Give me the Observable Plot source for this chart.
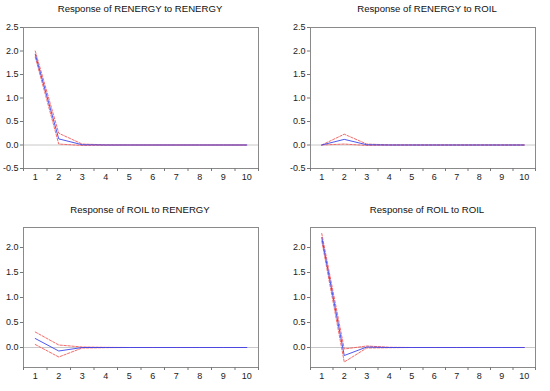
<!DOCTYPE html>
<html>
<head>
<meta charset="utf-8">
<script src="https://cdn.jsdelivr.net/npm/d3@7"></script>
<script src="https://cdn.jsdelivr.net/npm/@observablehq/plot@0.6"></script>
<style>
  html, body { margin: 0; padding: 0; background: #fff; }
  #root { position: relative; width: 550px; height: 391px; font-family: "Liberation Sans", Arial, sans-serif; }
  .panel { position: absolute; }
  .title { position: absolute; font-size: 9.6px; color: #111; white-space: nowrap; transform: translateX(-50%); }
</style>
</head>
<body>
<div id="root"></div>
<script>
const periods = [1, 2, 3, 4, 5, 6, 7, 8, 9, 10];

const titles = [
  "Response of RENERGY to RENERGY",
  "Response of RENERGY to ROIL",
  "Response of ROIL to RENERGY",
  "Response of ROIL to ROIL"
];

// Response of RENERGY to RENERGY
const p1Resp  = [1.93, 0.13, 0.005, 0.0, 0, 0, 0, 0, 0, 0];
const p1Upper = [2.00, 0.25, 0.02, 0.004, 0, 0, 0, 0, 0, 0];
const p1Lower = [1.87, 0.02, -0.01, -0.004, 0, 0, 0, 0, 0, 0];

// Response of RENERGY to ROIL
const p2Resp  = [0.0, 0.12, 0.005, 0.0, 0, 0, 0, 0, 0, 0];
const p2Upper = [0.0, 0.23, 0.02, 0.003, 0, 0, 0, 0, 0, 0];
const p2Lower = [0.0, 0.02, -0.01, -0.003, 0, 0, 0, 0, 0, 0];

// Response of ROIL to RENERGY
const p3Resp  = [0.18, -0.07, 0.0, 0.0, 0, 0, 0, 0, 0, 0];
const p3Upper = [0.31, 0.05, 0.01, 0.003, 0, 0, 0, 0, 0, 0];
const p3Lower = [0.06, -0.19, -0.01, -0.003, 0, 0, 0, 0, 0, 0];

// Response of ROIL to ROIL
const p4Resp  = [2.20, -0.16, 0.01, 0.0, 0, 0, 0, 0, 0, 0];
const p4Upper = [2.28, -0.03, 0.03, 0.004, 0, 0, 0, 0, 0, 0];
const p4Lower = [2.13, -0.29, -0.01, -0.004, 0, 0, 0, 0, 0, 0];

const yTicksTop = [-0.5, 0.0, 0.5, 1.0, 1.5, 2.0, 2.5];
const yTicksBottom = [0.0, 0.5, 1.0, 1.5, 2.0];

const panels = [
  {title: titles[0], resp: p1Resp, up: p1Upper, lo: p1Lower, yDomain: [-0.5, 2.5], yTicks: yTicksTop,
   left: 0, top: 0, w: 275, h: 190, ml: 23, mr: 17, mt: 27, mb: 22, titleX: 140, titleY: 3},
  {title: titles[1], resp: p2Resp, up: p2Upper, lo: p2Lower, yDomain: [-0.5, 2.5], yTicks: yTicksTop,
   left: 275, top: 0, w: 275, h: 190, ml: 35, mr: 15, mt: 27, mb: 22, titleX: 427, titleY: 3},
  {title: titles[2], resp: p3Resp, up: p3Upper, lo: p3Lower, yDomain: [-0.4, 2.4], yTicks: yTicksBottom,
   left: 0, top: 190, w: 275, h: 201, ml: 23, mr: 17, mt: 37, mb: 24, titleX: 140, titleY: 204},
  {title: titles[3], resp: p4Resp, up: p4Upper, lo: p4Lower, yDomain: [-0.4, 2.4], yTicks: yTicksBottom,
   left: 275, top: 190, w: 275, h: 201, ml: 35, mr: 15, mt: 37, mb: 24, titleX: 427, titleY: 204}
];

const root = document.getElementById("root");
const boundaries = [0.5, ...periods.map(p => p + 0.5)];
const fmt = d => d.toFixed(1);

for (const p of panels) {
  const rows = periods.map((t, i) => ({t, resp: p.resp[i], up: p.up[i], lo: p.lo[i]}));
  const chart = Plot.plot({
    width: p.w,
    height: p.h,
    marginLeft: p.ml,
    marginRight: p.mr,
    marginTop: p.mt,
    marginBottom: p.mb,
    style: {fontSize: "9px", fontFamily: "'Liberation Sans', Arial, sans-serif", color: "#222", background: "transparent"},
    x: {domain: [0.5, 10.5], axis: null, label: null},
    y: {domain: p.yDomain, axis: null, label: null},
    marks: [
      Plot.ruleY([0], {stroke: "#c8c8c8", strokeWidth: 1}),
      Plot.line(rows, {x: "t", y: "up", stroke: "#f35a5a", strokeWidth: 0.9, strokeDasharray: "2.5,1.5"}),
      Plot.line(rows, {x: "t", y: "lo", stroke: "#f35a5a", strokeWidth: 0.9, strokeDasharray: "2.5,1.5"}),
      Plot.line(rows, {x: "t", y: "resp", stroke: "#3a44ee", strokeWidth: 0.9}),
      Plot.frame({stroke: "#8a8a8a", strokeWidth: 1}),
      Plot.axisX(periods, {tickSize: 0, tickPadding: 5, tickFormat: d => String(d), fill: "#222", label: null}),
      Plot.axisX(boundaries, {tickSize: 3, tickFormat: () => "", stroke: "#777", label: null}),
      Plot.axisY(p.yTicks, {tickSize: 3, tickPadding: 2, tickFormat: fmt, stroke: "#777", fill: "#222", label: null})
    ]
  });
  chart.classList.add("panel");
  chart.style.left = p.left + "px";
  chart.style.top = p.top + "px";
  root.appendChild(chart);

  const t = document.createElement("div");
  t.className = "title";
  t.textContent = p.title;
  t.style.left = p.titleX + "px";
  t.style.top = p.titleY + "px";
  root.appendChild(t);
}
</script>
</body>
</html>
